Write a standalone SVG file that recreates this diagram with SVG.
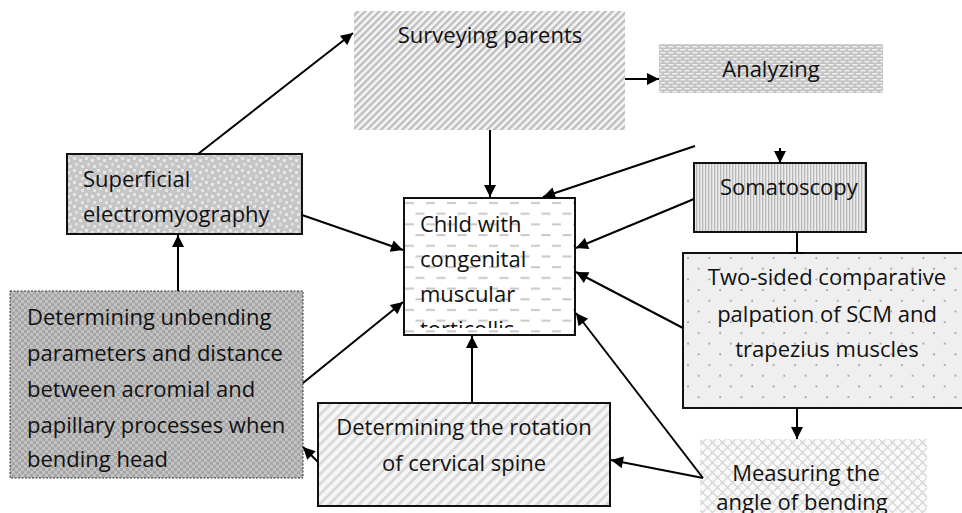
<svg xmlns="http://www.w3.org/2000/svg" width="962" height="513" viewBox="0 0 962 513">
<style>
text{font-family:"Open Sans","Noto Sans","DejaVu Sans",sans-serif;font-size:22px;fill:#111}
.c{text-anchor:middle}
.bd{stroke:#111;stroke-width:2}
.con line{stroke:#000;stroke-width:2;fill:none}
</style>
<defs>
<marker id="ah" viewBox="0 0 10 10" refX="10" refY="5" markerWidth="15" markerHeight="12" markerUnits="userSpaceOnUse" orient="auto">
<path d="M0,0 L10,5 L0,10 z" fill="#000"/>
</marker>
<pattern id="pSurvey" width="5" height="5" patternUnits="userSpaceOnUse" patternTransform="rotate(45)">
<rect width="5" height="5" fill="#f6f6f6"/><rect width="2.4" height="5" fill="#bdbdbd"/>
</pattern>
<pattern id="pAnal" width="8" height="6" patternUnits="userSpaceOnUse">
<rect width="8" height="6" fill="#c4c4c4"/><rect x="0.5" y="1" width="5" height="1.4" fill="#f2f2f2"/><rect x="4.5" y="4" width="5" height="1.4" fill="#f2f2f2"/><rect x="-3.5" y="4" width="5" height="1.4" fill="#f2f2f2"/>
</pattern>
<pattern id="pSup" width="12" height="12" patternUnits="userSpaceOnUse">
<rect width="12" height="12" fill="#c6c6c6"/><rect x="1" y="1" width="3" height="3" fill="#e4e4e4"/><rect x="7" y="3" width="3" height="3" fill="#e8e8e8"/><rect x="3" y="7" width="3" height="3" fill="#dedede"/><rect x="9" y="9" width="3" height="3" fill="#e4e4e4"/>
</pattern>
<pattern id="pChild" width="21" height="21.4" patternUnits="userSpaceOnUse" x="404" y="198">
<rect width="21" height="21.4" fill="#fff"/><rect x="1" y="4" width="9" height="2" fill="#c8c8c8"/><rect x="11.5" y="14.7" width="9" height="2" fill="#c8c8c8"/>
</pattern>
<pattern id="pSoma" width="3" height="3" patternUnits="userSpaceOnUse">
<rect width="3" height="3" fill="#ececec"/><rect width="1.3" height="3" fill="#b8b8b8"/>
</pattern>
<pattern id="pTwo" width="21.4" height="21.4" patternUnits="userSpaceOnUse" x="683" y="253">
<rect width="21.4" height="21.4" fill="#efefef"/><circle cx="5" cy="5" r="0.9" fill="#888"/><circle cx="15.7" cy="15.7" r="0.9" fill="#888"/>
</pattern>
<pattern id="pUnb" width="6" height="6" patternUnits="userSpaceOnUse">
<rect width="6" height="6" fill="#c2c2c2"/><rect width="3" height="3" fill="#a6a6a6"/><rect x="3" y="3" width="3" height="3" fill="#a6a6a6"/>
</pattern>
<pattern id="pRot" width="7" height="7" patternUnits="userSpaceOnUse" patternTransform="rotate(45)">
<rect width="7" height="7" fill="#f6f6f6"/><rect width="3" height="7" fill="#dadada"/>
</pattern>
<pattern id="pMeas" width="10" height="10" patternUnits="userSpaceOnUse">
<rect width="10" height="10" fill="#fafafa"/><path d="M0,5 L5,0 M5,10 L10,5 M2.5,2.5 L7.5,7.5 M0,0 L2,2 M8,8 L10,10" stroke="#d4d4d4" stroke-width="1.3" fill="none"/>
</pattern>
<clipPath id="clipChild"><rect x="404" y="198" width="171" height="130"/></clipPath>
</defs>
<g id="surveying">
<rect x="354" y="11" width="271" height="119" fill="url(#pSurvey)"/>
<text class="c" x="490" y="43">Surveying parents</text>
</g>
<g id="analyzing">
<rect x="659" y="44" width="224" height="49" fill="url(#pAnal)"/>
<text class="c" x="771" y="77">Analyzing</text>
</g>
<g id="superficial">
<rect x="67" y="154" width="235" height="80" fill="url(#pSup)" class="bd"/>
<text x="83" y="187">Superficial</text>
<text x="83" y="222">electromyography</text>
</g>
<g id="child">
<rect x="404" y="198" width="171" height="137" fill="url(#pChild)" class="bd"/>
<g clip-path="url(#clipChild)">
<text x="420" y="232">Child with</text>
<text x="420" y="267">congenital</text>
<text x="420" y="302">muscular</text>
<text x="420" y="337">torticollis</text>
</g>
</g>
<g id="somatoscopy">
<rect x="694" y="163" width="172" height="69" fill="url(#pSoma)" class="bd"/>
<text x="720" y="195">Somatoscopy</text>
</g>
<g id="twosided">
<rect x="683" y="253" width="282" height="155" fill="url(#pTwo)" class="bd"/>
<text class="c" x="827" y="285">Two-sided comparative</text>
<text class="c" x="827" y="322">palpation of SCM and</text>
<text class="c" x="827" y="357">trapezius muscles</text>
</g>
<g id="unbending">
<rect x="10" y="291" width="293" height="187" fill="url(#pUnb)" stroke="#333" stroke-width="1" stroke-dasharray="2,1.5"/>
<text x="27" y="325">Determining unbending</text>
<text x="27" y="361">parameters and distance</text>
<text x="27" y="397">between acromial and</text>
<text x="27" y="433">papillary processes when</text>
<text x="27" y="467">bending head</text>
</g>
<g id="rotation">
<rect x="318" y="403" width="292" height="103" fill="url(#pRot)" class="bd"/>
<text class="c" x="464" y="435">Determining the rotation</text>
<text class="c" x="464" y="471">of cervical spine</text>
</g>
<g id="measuring">
<rect x="700" y="439" width="227" height="80" fill="url(#pMeas)"/>
<text class="c" x="806" y="481">Measuring the</text>
<text class="c" x="802" y="510">angle of bending</text>
</g>
<g id="connectors" class="con">
<line x1="198" y1="154" x2="353" y2="33" marker-end="url(#ah)"/>
<line x1="625" y1="79" x2="659" y2="79" marker-end="url(#ah)"/>
<line x1="490" y1="130" x2="490" y2="197" marker-end="url(#ah)"/>
<line x1="695" y1="146" x2="543" y2="197" marker-end="url(#ah)"/>
<line x1="780" y1="148" x2="780" y2="163" marker-end="url(#ah)"/>
<line x1="694" y1="199" x2="576" y2="248" marker-end="url(#ah)"/>
<line x1="797" y1="232" x2="797" y2="253"/>
<line x1="790" y1="253" x2="804" y2="253"/>
<line x1="683" y1="328" x2="576" y2="272" marker-end="url(#ah)"/>
<line x1="797" y1="408" x2="797" y2="439" marker-end="url(#ah)"/>
<line x1="703" y1="478" x2="576" y2="313" marker-end="url(#ah)"/>
<line x1="703" y1="478" x2="611" y2="460" marker-end="url(#ah)"/>
<line x1="472" y1="403" x2="472" y2="336" marker-end="url(#ah)"/>
<line x1="318" y1="462" x2="303" y2="447" marker-end="url(#ah)"/>
<line x1="178" y1="291" x2="178" y2="235" marker-end="url(#ah)"/>
<line x1="302" y1="215" x2="403" y2="250" marker-end="url(#ah)"/>
<line x1="303" y1="383" x2="403" y2="302" marker-end="url(#ah)"/>
</g>
</svg>
